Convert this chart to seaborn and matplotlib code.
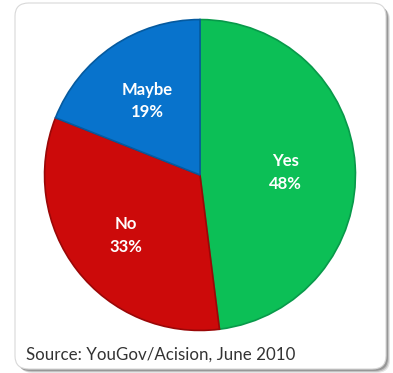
import numpy as np
import matplotlib
matplotlib.use("Agg")
import matplotlib.pyplot as plt
import seaborn as sns
from matplotlib.patches import FancyBboxPatch

sns.set_theme(style="white")
plt.rcParams["font.family"] = ["Lato", "DejaVu Sans"]

categories = ["Yes", "No", "Maybe"]
shares = [48, 33, 19]
colors = ["#0cbf56", "#cc0a0a", "#0873cc"]
edge_colors = ["#08994a", "#9a0707", "#055a9f"]
source_note = "Source: YouGov/Acision, June 2010"

W, H = 393, 373
fig = plt.figure(figsize=(W / 100, H / 100), dpi=100)
fig.patch.set_facecolor("white")

# rounded frame with a soft shadow
for off, alpha in [(4, 0.10), (3, 0.15), (2, 0.22)]:
    shadow = FancyBboxPatch((15 / W + off / W, 4 / H - off / H), 371 / W, 366 / H,
                            boxstyle="round,pad=0,rounding_size=0.035",
                            transform=fig.transFigure, facecolor="#000000",
                            edgecolor="none", alpha=alpha, zorder=0)
    fig.patches.append(shadow)
frame = FancyBboxPatch((15 / W, 4 / H), 371 / W, 366 / H,
                       boxstyle="round,pad=0,rounding_size=0.035",
                       transform=fig.transFigure, facecolor="white",
                       edgecolor="#d8d8d8", linewidth=0.8, zorder=0.5)
fig.patches.append(frame)

ax = fig.add_axes([43 / W, 41 / H, 314 / W, 314 / H])
ax.set_zorder(2)
ax.set_facecolor("none")
wedges, _ = ax.pie(shares, colors=colors, startangle=90, counterclock=False,
                   wedgeprops=dict(linewidth=1.2))
for w, ec in zip(wedges, edge_colors):
    w.set_edgecolor(ec)
ax.set_xlim(-1.01, 1.01)
ax.set_ylim(-1.01, 1.01)
ax.set_aspect("equal")
ax.axis("off")

label_r = {"Yes": 0.55, "No": 0.60, "Maybe": 0.60}
for w, cat, val in zip(wedges, categories, shares):
    mid = np.deg2rad((w.theta1 + w.theta2) / 2)
    r = label_r[cat]
    ax.text(r * np.cos(mid), r * np.sin(mid) - 0.02, f"{cat}\n{val}%", ha="center",
            va="center", color="white", fontsize=12, fontweight="bold",
            linespacing=1.5)

fig.text(26 / W, 1 - 355 / H, source_note, ha="left", va="center",
         fontsize=12.2, color="#333333", zorder=3)

fig.savefig("out.png", dpi=100, facecolor="white")
